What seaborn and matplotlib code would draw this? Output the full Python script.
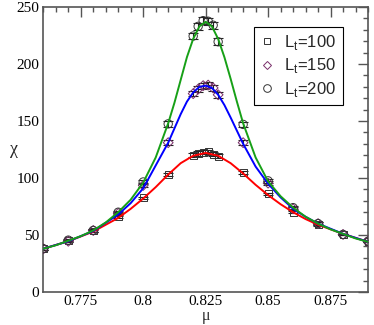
import numpy as np
import pandas as pd
import seaborn as sns
import matplotlib.pyplot as plt
from matplotlib.ticker import MultipleLocator
from matplotlib.lines import Line2D

# measured points (mu, chi) for the three L_t
mu_pts = [0.76, 0.77, 0.78, 0.79, 0.80, 0.81, 0.82, 0.822, 0.824, 0.826, 0.828, 0.83,
          0.84, 0.85, 0.86, 0.87, 0.88, 0.89]
chi_100 = [38, 45, 53.5, 66, 82.5, 103, 120, 121.5, 122.5, 123, 121, 119,
           105, 86, 70, 59, 50.5, 44.5]
chi_150 = [38, 44.5, 54, 69, 93.5, 131, 174, 178, 181, 181.5, 179, 173,
           131, 95.5, 73, 60, 50.5, 44.5]
chi_200 = [38, 45.5, 54, 70, 96.5, 147.5, 224.5, 233, 238, 237.5, 234, 219.5,
           147, 97.5, 74, 60, 50.5, 44.5]
err_100 = [0.8, 0.8, 1, 1, 1.2, 1.5, 1.8, 1.8, 1.8, 1.8, 1.8, 1.8, 1.5, 1.2, 1, 1, 0.8, 0.8]
err_150 = [0.8, 0.8, 1, 1.2, 1.8, 2.2, 2.5, 2.5, 2.5, 2.5, 2.5, 2.5, 2.2, 1.8, 1.2, 1, 0.8, 0.8]
err_200 = [0.8, 0.8, 1, 1.2, 2, 2.5, 3, 3, 3, 3, 3, 3, 2.5, 2, 1.2, 1, 0.8, 0.8]

# fitted curves
mu_fit_100 = [0.76, 0.77, 0.78, 0.79, 0.795, 0.80, 0.805, 0.81, 0.815, 0.82, 0.825, 0.83,
              0.835, 0.84, 0.845, 0.85, 0.855, 0.86, 0.865, 0.87, 0.88, 0.89]
chi_fit_100 = [38, 44.5, 53, 65, 73, 82, 92, 103, 113, 119.5, 122, 119.5,
               113, 104, 94, 85, 77, 70, 64, 59, 51, 44]
mu_fit_150 = [0.76, 0.77, 0.78, 0.79, 0.795, 0.80, 0.805, 0.81, 0.815, 0.8175, 0.82, 0.8225,
              0.825, 0.8275, 0.83, 0.8325, 0.835, 0.84, 0.845, 0.85, 0.855, 0.86, 0.865,
              0.87, 0.88, 0.89]
chi_fit_150 = [38, 44.5, 53.5, 68, 78, 91, 111, 131, 156, 167, 175, 180,
               181, 179, 173, 164, 153, 130, 110, 95, 83, 73, 66,
               60, 51, 44]
mu_fit_200 = [0.76, 0.765, 0.77, 0.775, 0.78, 0.785, 0.79, 0.795, 0.80, 0.805, 0.81, 0.8125,
              0.815, 0.8175, 0.82, 0.8225, 0.825, 0.8275, 0.83, 0.8325, 0.835, 0.8375, 0.84,
              0.845, 0.85, 0.855, 0.86, 0.865, 0.87, 0.875, 0.88, 0.885, 0.89]
chi_fit_200 = [38, 41, 45, 49, 54, 61, 70, 81, 96, 118, 148, 166,
               186, 206, 222, 233, 237, 233, 222, 206, 187, 167, 148,
               118, 97, 84, 74, 66, 60, 55, 51, 47, 44]

labels = ["100", "150", "200"]
line_colors = ["#ff0000", "#0000ff", "#17a017"]
mark_colors = ["#333333", "#7a2e6a", "#333333"]
markers = ["s", "D", "o"]
msizes = [5, 5, 6]

sns.set_style("white")
plt.rcParams["font.family"] = ["Liberation Serif", "DejaVu Serif"]

fig = plt.figure(figsize=(3.74, 3.25), dpi=100)
ax = fig.add_axes([0.1158, 0.1015, 0.8682, 0.877])

fits = [(mu_fit_100, chi_fit_100), (mu_fit_150, chi_fit_150), (mu_fit_200, chi_fit_200)]
pts = [(chi_100, err_100), (chi_150, err_150), (chi_200, err_200)]

for i in range(3):
    ax.errorbar(mu_pts, pts[i][0], yerr=pts[i][1], fmt="none", ecolor="#222222",
                elinewidth=0.8, capsize=3.5, capthick=0.8, zorder=2)
    sns.scatterplot(x=mu_pts, y=pts[i][0], marker=markers[i], s=msizes[i] ** 2,
                    facecolor="none", edgecolor=mark_colors[i], linewidth=0.7,
                    ax=ax, zorder=3)
    df = pd.DataFrame({"mu": fits[i][0], "chi": fits[i][1]})
    sns.lineplot(data=df, x="mu", y="chi", color=line_colors[i], lw=1.4,
                 sort=False, ax=ax, zorder=4)

ax.set_xlim(0.76, 0.89)
ax.set_ylim(0, 250)
ax.xaxis.set_minor_locator(MultipleLocator(0.005))
ax.yaxis.set_major_locator(MultipleLocator(50))
ax.yaxis.set_minor_locator(MultipleLocator(10))
ax.set_xticks([0.775, 0.8, 0.825, 0.85, 0.875])
ax.set_xticklabels(["0.775", "0.8", "0.825", "0.85", "0.875"])
ax.tick_params(which="both", direction="in", top=True, right=True, colors="#555555",
               labelcolor="black", labelsize=11, width=1)
ax.tick_params(which="major", length=7, pad=3)
ax.tick_params(axis="x", which="major", pad=2)
ax.tick_params(which="minor", length=3.5)
for sp in ax.spines.values():
    sp.set_color("#555555")
    sp.set_linewidth(1.2)

ax.set_xlabel("μ", fontsize=11.5, va="bottom")
ax.xaxis.set_label_coords(0.5, -0.113)
ax.set_ylabel("χ", fontsize=13, rotation=0, va="center")
ax.yaxis.set_label_coords(-0.09, 0.5)

handles = [Line2D([], [], ls="none", marker=markers[i], markersize=msizes[i] - 0.5,
                  markerfacecolor="none", markeredgecolor=mark_colors[i], markeredgewidth=0.7)
           for i in range(3)]
leg = ax.legend(handles, ["L$_\\mathregular{t}$=" + l for l in labels],
                loc="upper right", bbox_to_anchor=(0.922, 0.931), borderaxespad=0,
                frameon=True, fancybox=False, framealpha=1, edgecolor="black",
                prop={"family": "Liberation Sans", "size": 12}, handlelength=0.8,
                handletextpad=0.6, labelspacing=0.25, borderpad=0.4)
leg.get_frame().set_linewidth(0.8)

fig.savefig("out.png", dpi=100)
